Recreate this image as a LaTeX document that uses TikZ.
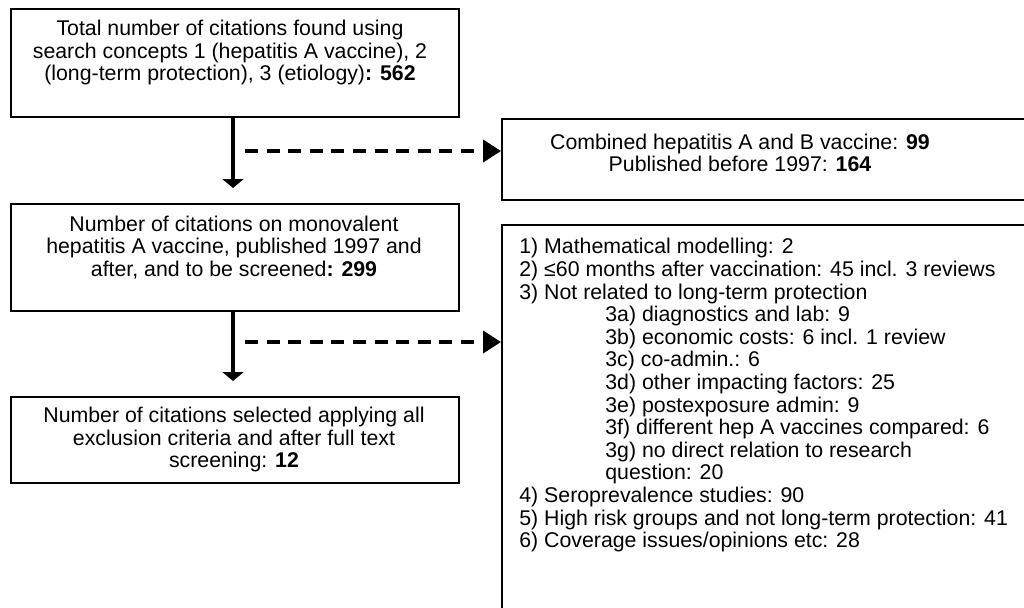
\documentclass[tikz,border=0pt]{standalone}
\usepackage{fontspec}
\setmainfont{Liberation Sans}
\usetikzlibrary{arrows.meta,positioning}

\begin{document}
\begin{tikzpicture}[
    x=0.5pt, y=-0.5pt,
    font=\fontsize{10.65pt}{11.3pt}\selectfont,
    box/.style={draw, line width=0.75pt, inner sep=0pt, anchor=north west},
    boxtxt/.style={align=center, inner sep=0pt},
    flow/.style={line width=1.6pt, -{Triangle[width=10.5pt, length=4.5pt]}, shorten >=7.5pt},
    skip/.style={line width=2pt, dash pattern=on 6.5pt off 4.3pt, -{Triangle[width=11pt, length=9pt]}}
]
    \clip (0,0) rectangle (1024,607);
    \useasboundingbox (0,0) rectangle (1024,607);

    % left column
    \node[box, minimum width=224pt, minimum height=54pt] (total) at (10,8) {};
    \node[box, minimum width=224pt, minimum height=53.5pt] (mono) at (10,203) {};
    \node[box, minimum width=224pt, minimum height=43pt] (final) at (10,396) {};
    \node[boxtxt] (total-txt) at (230,52.5) {Total number of citations found using\\search concepts 1 (hepatitis A vaccine), 2\\(long-term protection), 3 (etiology)\textbf{: 562}};
    \node[boxtxt] (mono-txt) at (234,247.5) {Number of citations on monovalent\\hepatitis A vaccine, published 1997 and\\after, and to be screened\textbf{: 299}};
    \node[boxtxt] (final-txt) at (234,439.5) {Number of citations selected applying all\\exclusion criteria and after full text\\screening: \textbf{12}};

    % right column
    \node[box, minimum width=270pt, minimum height=40.5pt] (combo) at (501,118) {};
    \node[box, minimum width=270pt, minimum height=210pt] (excl) at (501,224) {};
    \node[boxtxt] (combo-txt) at (740,153) {Combined hepatitis A and B vaccine: \textbf{99}\\Published before 1997: \textbf{164}};
    \node[inner sep=0pt, align=left, anchor=north west] (excl-txt) at (519,238) {1) Mathematical modelling: 2\\
        2) ≤60 months after vaccination: 45 incl. 3 reviews\\
        3) Not related to long-term protection\\
        \hspace*{43pt}3a) diagnostics and lab: 9\\
        \hspace*{43pt}3b) economic costs: 6 incl. 1 review\\
        \hspace*{43pt}3c) co-admin.: 6\\
        \hspace*{43pt}3d) other impacting factors: 25\\
        \hspace*{43pt}3e) postexposure admin: 9\\
        \hspace*{43pt}3f) different hep A vaccines compared: 6\\
        \hspace*{43pt}3g) no direct relation to research\\
        \hspace*{43pt}question: 20\\
        4) Seroprevalence studies: 90\\
        5) High risk groups and not long-term protection: 41\\
        6) Coverage issues/opinions etc: 28};

    % arrows
    \coordinate (fork1) at (233,151);
    \coordinate (fork2) at (233,342);
    \draw[flow] (total.south -| fork1) -- (mono.north -| fork1);
    \draw[flow] (mono.south -| fork2) -- (final.north -| fork2);
    \draw[skip] ([xshift=6pt]fork1) -- (combo.west |- fork1);
    \draw[skip] ([xshift=6pt]fork2) -- (excl.west |- fork2);
\end{tikzpicture}
\end{document}
